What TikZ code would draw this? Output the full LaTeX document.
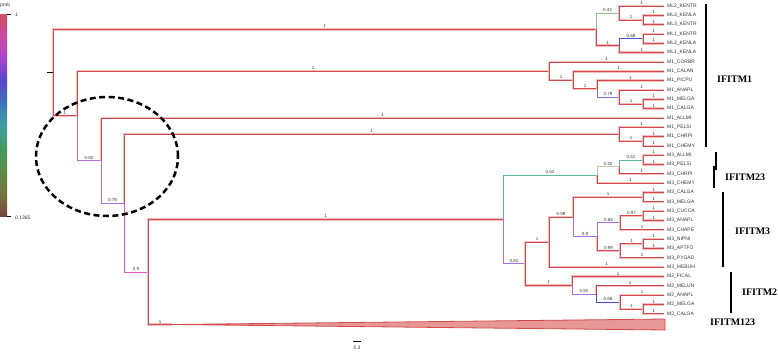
\documentclass[tikz,border=0pt]{standalone}
\usepackage{fontspec}
\setmainfont{Liberation Serif}
\setsansfont{Liberation Sans}
\definecolor{bred}{RGB}{208,76,76}
\definecolor{bpink}{RGB}{244,190,190}
\definecolor{bgreen}{RGB}{140,200,140}
\definecolor{bblue}{RGB}{70,80,200}
\definecolor{bpurple}{RGB}{170,110,225}
\definecolor{bviolet}{RGB}{140,100,220}
\definecolor{bmagenta}{RGB}{215,90,205}
\definecolor{bteal}{RGB}{90,185,165}
\definecolor{bsage}{RGB}{195,205,165}
\definecolor{txt}{RGB}{55,55,55}
\definecolor{trifill}{RGB}{232,150,150}
\definecolor{cb0}{RGB}{205,80,95}
\definecolor{cb1}{RGB}{200,75,160}
\definecolor{cb2}{RGB}{180,70,205}
\definecolor{cb3}{RGB}{90,70,200}
\definecolor{cb4}{RGB}{60,120,185}
\definecolor{cb5}{RGB}{60,160,160}
\definecolor{cb6}{RGB}{70,155,95}
\definecolor{cb7}{RGB}{95,135,65}
\definecolor{cb8}{RGB}{120,115,60}
\definecolor{cb9}{RGB}{115,65,60}
\tikzset{
  br/.style={draw=bred, line width=0.9pt, preaction={draw=bpink, line width=2.4pt}},
  bc/.style={draw=#1, line width=0.9pt},
  tiplab/.style={font=\sffamily\fontsize{5}{5}\selectfont, text=txt, anchor=west, inner sep=0pt},
  sup/.style={font=\sffamily\fontsize{4.5}{4.5}\selectfont, text=txt, anchor=south, inner sep=1pt, pos=0.75},
  grp/.style={font=\bfseries\fontsize{10}{11}\selectfont, anchor=west, inner sep=0pt},
  gbar/.style={line width=2.6pt, black},
  small/.style={font=\sffamily\fontsize{5}{5}\selectfont, text=txt, inner sep=0pt}
}
\begin{document}
\begin{tikzpicture}[x=1pt,y=-1pt]
\useasboundingbox (0,0) rectangle (778,351);
% leaves
\foreach \i/\lab in {0/ML2\_KENTR,1/ML3\_KENLA,2/ML3\_KENTR,3/ML1\_KENTR,4/ML2\_KENLA,5/ML1\_KENLA,
 6/M1\_CORBR,7/M1\_CALAN,8/M1\_PICPU,9/M1\_ANAPL,10/M1\_MELGA,11/M1\_CALGA,12/M1\_ALLMI,13/M1\_PELSI,
 14/M1\_CHRPI,15/M1\_CHEMY,16/M3\_ALLMI,17/M3\_PELSI,18/M3\_CHRPI,19/M3\_CHEMY,20/M3\_CALGA,21/M3\_MELGA,
 22/M3\_CUCCA,23/M3\_ANAPL,24/M3\_CHAPE,25/M3\_NIPNI,26/M3\_APTFO,27/M3\_PYGAD,28/M3\_MEBUH,29/M2\_FICAL,
 30/M2\_MELUN,31/M2\_ANAPL,32/M2\_MELGA,33/M2\_CALGA}{
  \coordinate (e\i) at (664,{6+9.33*\i});
  \node[tiplab] (t\i) at (667,{6+9.33*\i}) {\lab};
}
% internal nodes
\coordinate (root) at (53,72.54);
\coordinate (rootstub) at (47,72.54);
\coordinate (nA) at (596,29.3);
\coordinate (nB) at (619,13);
\coordinate (nML3) at (643,20);
\coordinate (nC) at (619,45.65);
\coordinate (nML1) at (643,38.66);
\coordinate (nD) at (77,115.78);
\coordinate (nE) at (549,71.02);
\coordinate (nG) at (573,80.06);
\coordinate (nH) at (597,88.8);
\coordinate (nI) at (619,96.97);
\coordinate (nJ) at (643,103.97);
\coordinate (nF) at (101,160.54);
\coordinate (nK) at (124,203.13);
\coordinate (nL) at (619,134.29);
\coordinate (nM) at (643,141.29);
\coordinate (nN) at (148,271.96);
\coordinate (nO) at (503,219.42);
\coordinate (nP) at (597,175.1);
\coordinate (nQ) at (619,166.94);
\coordinate (nR) at (643,159.95);
\coordinate (nS) at (525,263.74);
\coordinate (nT) at (549,242.17);
\coordinate (nU) at (573,217.1);
\coordinate (nV) at (643,197.27);
\coordinate (nW) at (597,236.92);
\coordinate (nX) at (620,222.92);
\coordinate (nY) at (643,215.93);
\coordinate (nZ) at (620,250.91);
\coordinate (nAA) at (643,243.92);
\coordinate (nBB) at (572,285.32);
\coordinate (nCC) at (596,294.06);
\coordinate (nDD) at (620,302.23);
\coordinate (nEE) at (643,309.23);
\coordinate (tri) at (172,324.5);
\coordinate (triA) at (665,319);
\coordinate (triB) at (665,330);
% coloured (non-red) branches
\draw[bc=bgreen] (nA) |- (nB) node[sup]{0.42};
\draw[bc=bblue] (nC) |- (nML1) node[sup]{0.68};
\draw[bc=bpurple] (nD) |- (nF) node[sup]{0.82};
\draw[bc=bviolet] (nH) |- (nI) node[sup]{0.79};
\draw[bc=bpurple] (nF) |- (nK) node[sup]{0.78};
\draw[bc=bmagenta] (nK) |- (nN) node[sup]{0.9};
\draw[bc=bteal] (nO) |- (nP) node[sup]{0.52};
\draw[bc=bpurple] (nO) |- (nS) node[sup]{0.81};
\draw[bc=bsage] (nP) |- (nQ) node[sup]{0.32};
\draw[bc=bteal] (nQ) |- (nR) node[sup]{0.51};
\draw[bc=bpurple] (nU) |- (nW) node[sup]{0.8};
\draw[bc=bpurple] (nW) |- (nX) node[sup]{0.84};
\draw[bc=bpurple] (nBB) |- (nCC) node[sup]{0.81};
\draw[bc=bblue] (nCC) |- (nDD) node[sup]{0.68};
% red internal branches
\draw[br] (root) |- (nA) node[sup]{1};
\draw[br] (root) |- (nD) node[sup]{1};
\draw[br] (nA) |- (nC) node[sup]{1};
\draw[br] (nB) |- (nML3) node[sup]{1};
\draw[br] (nD) |- (nE) node[sup]{1};
\draw[br] (nE) |- (nG) node[sup]{1};
\draw[br] (nG) |- (nH) node[sup]{1};
\draw[br] (nI) |- (nJ) node[sup]{1};
\draw[br] (nK) |- (nL) node[sup]{1};
\draw[br] (nL) |- (nM) node[sup]{1};
\draw[br] (nN) |- (nO) node[sup]{1};
\draw[br] (nN) |- (tri) node[sup]{1};
\draw[br] (nQ) |- (e18) node[sup]{1};
\draw[br] (nS) |- (nT) node[sup]{1};
\draw[br] (nS) |- (nBB) node[sup]{1};
\draw[br] (nT) |- (nU) node[sup]{0.98};
\draw[br] (nU) |- (nV) node[sup]{1};
\draw[br] (nW) |- (nZ) node[sup]{0.99};
\draw[br] (nX) |- (nY) node[sup]{0.97};
\draw[br] (nZ) |- (nAA) node[sup]{1};
\draw[br] (nDD) |- (nEE) node[sup]{1};
% tip branches
\foreach \p/\c in {nB/0,nML3/1,nML3/2,nML1/3,nML1/4,nC/5,nE/6,nG/7,nH/8,nI/9,nJ/10,nJ/11,
  nF/12,nL/13,nM/14,nM/15,nR/16,nR/17,nP/19,nV/20,nV/21,nY/22,nY/23,nX/24,nAA/25,nAA/26,
  nZ/27,nT/28,nBB/29,nCC/30,nDD/31,nEE/32,nEE/33}{
  \draw[br] (\p) |- (e\c) node[sup]{1};
}
% collapsed clade
\filldraw[fill=trifill, draw=bred, line width=0.8pt] (tri) -- (triA) -- (triB) -- cycle;
% root stub
\draw[black, line width=0.8pt] (rootstub) -- (root);
% dashed ellipse
\coordinate (ellc) at (107,156.5);
\draw[black, line width=2.5pt, dash pattern=on 6pt off 3.5pt] (ellc) ellipse [x radius=71pt, y radius=59.5pt];
% colour bar
\shade[top color=cb0, bottom color=cb1] (0,14) rectangle (7,35);
\shade[top color=cb1, bottom color=cb2] (0,35) rectangle (7,55);
\shade[top color=cb2, bottom color=cb3] (0,55) rectangle (7,80);
\shade[top color=cb3, bottom color=cb4] (0,80) rectangle (7,105);
\shade[top color=cb4, bottom color=cb5] (0,105) rectangle (7,125);
\shade[top color=cb5, bottom color=cb6] (0,125) rectangle (7,150);
\shade[top color=cb6, bottom color=cb7] (0,150) rectangle (7,175);
\shade[top color=cb7, bottom color=cb8] (0,175) rectangle (7,196);
\shade[top color=cb8, bottom color=cb9] (0,196) rectangle (7,216);
\coordinate (tk1a) at (7,14); \coordinate (tk1b) at (11,14);
\coordinate (tk2a) at (7,216); \coordinate (tk2b) at (11,216);
\draw[line width=0.5pt] (tk1a) -- (tk1b);
\draw[line width=0.5pt] (tk2a) -- (tk2b);
\node[small, anchor=west] (probl) at (0,5) {prob};
\node[small, anchor=west] (onel) at (15,15) {1};
\node[small, anchor=west] (minl) at (15,218) {0.1365};
% scale bar
\coordinate (sbL) at (353,341); \coordinate (sbR) at (361,341);
\draw[line width=0.7pt] (sbL) -- (sbR);
\node[small] (sbl) at (357,348) {0.3};
% group bars
\coordinate (g1a) at (706,4); \coordinate (g1b) at (706,147);
\coordinate (g23a) at (716,152); \coordinate (g23b) at (716,170);
\coordinate (g23c) at (714,166); \coordinate (g23d) at (714,188);
\coordinate (g3a) at (723,192); \coordinate (g3b) at (723,267);
\coordinate (g2a) at (731,272); \coordinate (g2b) at (731,313);
\draw[gbar] (g1a) -- (g1b);
\draw[gbar] (g23a) -- (g23b);
\draw[gbar] (g23c) -- (g23d);
\draw[gbar] (g3a) -- (g3b);
\draw[gbar] (g2a) -- (g2b);
\node[grp] (L1) at (717,79) {IFITM1};
\node[grp] (L23) at (725,177) {IFITM23};
\node[grp] (L3) at (735,231) {IFITM3};
\node[grp] (L2) at (742,292) {IFITM2};
\node[grp] (L123) at (710,322) {IFITM123};
\end{tikzpicture}
\end{document}
